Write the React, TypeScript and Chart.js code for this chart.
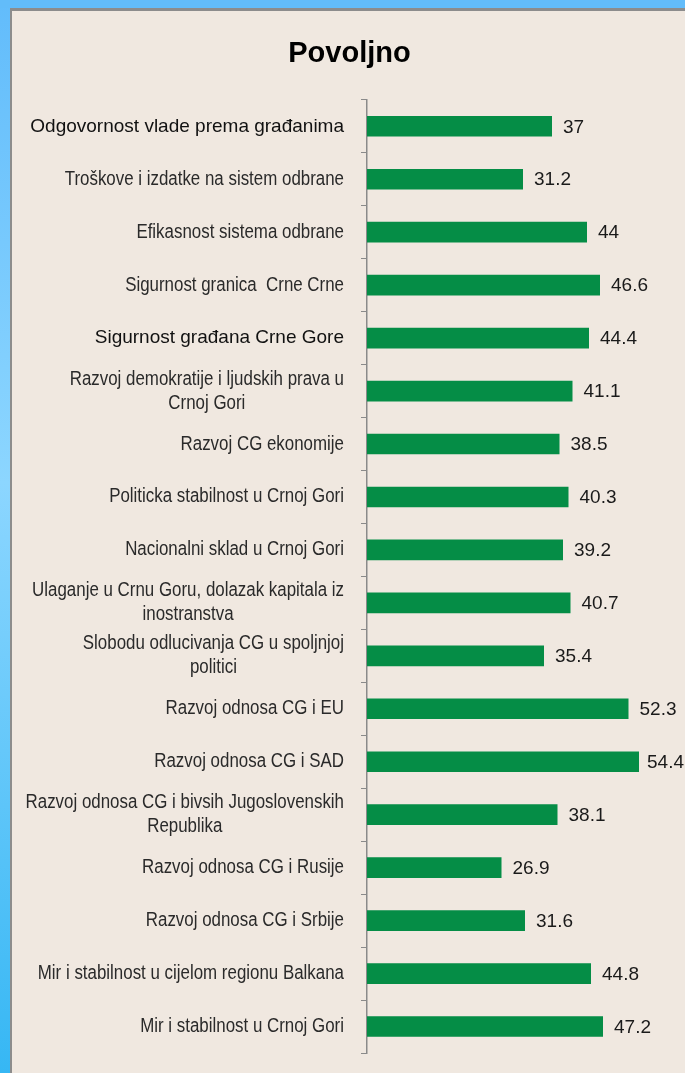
import React, { useEffect, useRef } from "react";
import { Chart, registerables } from "chart.js";

Chart.register(...registerables);

const titleText = "Povoljno";

const categories: string[][] = [
  ["Odgovornost vlade prema građanima"],
  ["Troškove i izdatke na sistem odbrane"],
  ["Efikasnost sistema odbrane"],
  ["Sigurnost granica  Crne Crne"],
  ["Sigurnost građana Crne Gore"],
  ["Razvoj demokratije i ljudskih prava u", "Crnoj Gori"],
  ["Razvoj CG ekonomije"],
  ["Politicka stabilnost u Crnoj Gori"],
  ["Nacionalni sklad u Crnoj Gori"],
  ["Ulaganje u Crnu Goru, dolazak kapitala iz", "inostranstva"],
  ["Slobodu odlucivanja CG u spoljnjoj", "politici"],
  ["Razvoj odnosa CG i EU"],
  ["Razvoj odnosa CG i SAD"],
  ["Razvoj odnosa CG i bivsih Jugoslovenskih", "Republika"],
  ["Razvoj odnosa CG i Rusije"],
  ["Razvoj odnosa CG i Srbije"],
  ["Mir i stabilnost u cijelom regionu Balkana"],
  ["Mir i stabilnost u Crnoj Gori"],
];

const values: number[] = [
  37, 31.2, 44, 46.6, 44.4, 41.1, 38.5, 40.3, 39.2, 40.7, 35.4, 52.3, 54.4, 38.1, 26.9, 31.6, 44.8, 47.2,
];

// labels rendered in the wider (Arial-like) face in the original
const wideLabelIdx: number[] = [0, 4];

const FONT = '"Liberation Sans", Arial, sans-serif';
const NARROW_SCALE = 0.845;

const backgroundPlugin = {
  id: "bgPanel",
  beforeDraw(chart: any) {
    const { ctx, width, height } = chart;
    ctx.save();
    const g = ctx.createLinearGradient(0, 0, 0, height);
    g.addColorStop(0, "#62BCFB");
    g.addColorStop(0.45, "#8CD6FF");
    g.addColorStop(1, "#36B7F4");
    ctx.fillStyle = g;
    ctx.fillRect(0, 0, width, height);
    ctx.fillStyle = "#62BCFA";
    ctx.fillRect(0, 0, width, 8);
    ctx.fillStyle = "#8C8C8C";
    ctx.fillRect(10, 8, width - 10, height - 8);
    ctx.fillStyle = "#F0E8E0";
    ctx.fillRect(12, 11, width - 12, height - 11);
    ctx.restore();
  },
};

const labelsPlugin = {
  id: "customLabels",
  afterDatasetsDraw(chart: any) {
    const { ctx, chartArea } = chart;
    const yScale = chart.scales.y;
    ctx.save();
    ctx.textBaseline = "middle";
    ctx.textAlign = "center";
    const rightEdge = chartArea.left - 23;
    const lineH = 24;
    categories.forEach((lines, i) => {
      const wide = wideLabelIdx.includes(i);
      const sx = wide ? 1 : NARROW_SCALE;
      ctx.font = wide ? `19px ${FONT}` : `20px ${FONT}`;
      ctx.fillStyle = wide ? "#111111" : "#2a2a2a";
      const maxW = Math.max(...lines.map((l) => ctx.measureText(l).width)) * sx;
      const cx = rightEdge - maxW / 2;
      const cy = yScale.getPixelForValue(i);
      const y0 = cy - ((lines.length - 1) * lineH) / 2;
      lines.forEach((l, k) => {
        ctx.save();
        ctx.translate(cx, y0 + k * lineH);
        ctx.scale(sx, 1);
        ctx.fillText(l, 0, 0);
        ctx.restore();
      });
    });
    const meta = chart.getDatasetMeta(0);
    ctx.font = `19px ${FONT}`;
    ctx.fillStyle = "#1a1a1a";
    ctx.textAlign = "left";
    meta.data.forEach((bar: any, i: number) => {
      const txt = String(values[i]);
      const w = ctx.measureText(txt).width;
      const x = Math.min(bar.x + 11, chart.width - w - 1);
      ctx.fillText(txt, x, bar.y + 1);
    });
    ctx.restore();
  },
};

export default function App() {
  const ref = useRef<HTMLCanvasElement | null>(null);
  useEffect(() => {
    if (!ref.current) return;
    const chart = new Chart(ref.current, {
      type: "bar",
      data: {
        labels: categories.map((c) => c.join(" ")),
        datasets: [
          {
            data: values,
            backgroundColor: "#058D46",
            borderWidth: 0,
            barPercentage: 0.39,
            categoryPercentage: 1,
          },
        ],
      },
      options: {
        indexAxis: "y",
        responsive: false,
        animation: false,
        events: [],
        layout: { padding: { left: 32, right: 18, top: 0, bottom: 20 } },
        plugins: {
          legend: { display: false },
          tooltip: { enabled: false },
          title: {
            display: true,
            text: titleText,
            color: "#000000",
            font: { family: FONT, size: 29, weight: "bold" },
            padding: { top: 37, bottom: 28 },
          },
        },
        scales: {
          x: {
            display: false,
            min: 0,
            max: 60,
          },
          y: {
            afterFit: (scale: any) => {
              scale.width = 335;
            },
            ticks: { display: false },
            grid: {
              display: true,
              offset: true,
              drawOnChartArea: false,
              drawTicks: true,
              tickLength: 6,
              color: "#8A8A8A",
              lineWidth: 1,
            },
            border: { display: true, color: "#8A8A8A", width: 1.5 },
          },
        },
      },
      plugins: [backgroundPlugin, labelsPlugin],
    });
    return () => chart.destroy();
  }, []);
  return (
    <div style={{ position: "fixed", left: 0, top: 0, width: 685, height: 1073 }}>
      <canvas ref={ref} width={685} height={1073} style={{ display: "block" }} />
    </div>
  );
}
